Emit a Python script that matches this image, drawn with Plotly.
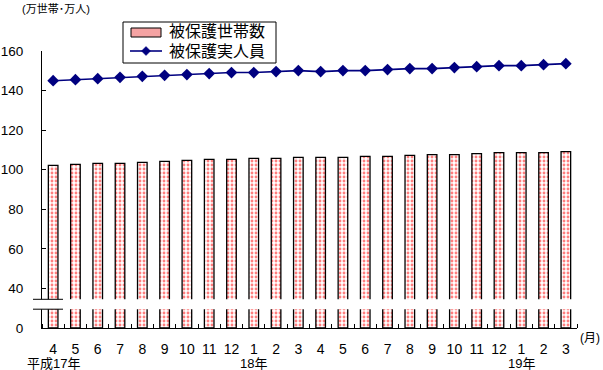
import plotly.graph_objects as go

# ---- data ----
months = ["4", "5", "6", "7", "8", "9", "10", "11", "12", "1", "2", "3",
          "4", "5", "6", "7", "8", "9", "10", "11", "12", "1", "2", "3"]
households = [102.2, 102.7, 103.2, 103.2, 103.7, 104.2, 104.7, 105.2, 105.2, 105.7, 105.7, 106.2,
              106.2, 106.2, 106.7, 106.7, 107.2, 107.6, 107.6, 108.1, 108.6, 108.6, 108.6, 109.1]
persons = [145.0, 145.5, 146.0, 146.7, 147.2, 147.7, 148.1, 148.6, 149.1, 149.1, 149.6, 150.1,
           149.6, 150.1, 150.1, 150.6, 151.1, 151.1, 151.6, 152.1, 152.6, 152.6, 153.1, 153.6]
year_labels = ["平成17年", "18年", "19年"]
year_label_index = [0, 9, 21]
y_tick_labels = [0, 40, 60, 80, 100, 120, 140, 160]
series_names = ["被保護世帯数", "被保護実人員"]

# broken axis: values from 40 upward are shifted down by 20 so 0..40 takes one step
BREAK_SHIFT = 20


def disp(v):
    return v - BREAK_SHIFT if v >= 40 else v * 0.0


x = list(range(len(months)))
hh_disp = [disp(v) for v in households]
pp_disp = [disp(v) for v in persons]
y_tick_pos = [0] + [disp(v) for v in y_tick_labels[1:]]

FONT = "Liberation Sans, Arial, Noto Sans CJK JP, sans-serif"
W, H = 603, 370
ML, MR, MT, MB = 42, 26, 51, 42
PW, PH = W - ML - MR, H - MT - MB


def px(xpix):
    return (xpix - ML) / PW


def py(ypix):
    return (H - MB - ypix) / PH


NAVY = "#000080"

fig = go.Figure()
fig.add_trace(go.Bar(
    x=x, y=hh_disp, name=series_names[0], width=0.43,
    marker=dict(color="white",
                line=dict(color="black", width=1.3),
                pattern=dict(shape=".", fgcolor="#ff0000", bgcolor="white",
                             size=4, solidity=0.4)),
    customdata=households, hovertemplate="%{customdata}<extra></extra>",
))
fig.add_trace(go.Scatter(
    x=x, y=pp_disp, name=series_names[1], mode="lines+markers",
    line=dict(color=NAVY, width=1.6),
    marker=dict(symbol="diamond", size=9, color=NAVY),
    customdata=persons, hovertemplate="%{customdata}<extra></extra>",
))

fig.update_layout(
    width=W, height=H,
    margin=dict(l=ML, r=MR, t=MT, b=MB, autoexpand=False),
    paper_bgcolor="white", plot_bgcolor="white",
    font=dict(family=FONT, size=14, color="black"),
    showlegend=False,
    bargap=0.5,
)
fig.update_xaxes(
    automargin=False,
    range=[-0.5, len(months) - 0.5],
    tickmode="array", tickvals=x, ticktext=months,
    ticks="", showgrid=False, zeroline=False,
    showline=True, linecolor="black", linewidth=1,
    tickfont=dict(size=14), ticklabelstandoff=8,
    minor=dict(tickmode="array", tickvals=[i - 0.5 for i in range(len(months) + 1)],
               ticks="inside", ticklen=4, tickcolor="black", showgrid=False),
)
fig.update_yaxes(
    automargin=False,
    range=[0, 140],
    tickmode="array", tickvals=y_tick_pos, ticktext=[str(v) for v in y_tick_labels],
    ticks="inside", ticklen=4, tickcolor="black",
    showgrid=False, zeroline=False,
    showline=True, linecolor="black", linewidth=1,
    tickfont=dict(size=13.5), ticklabelstandoff=15,
)

# axis break
BREAK_LO, BREAK_HI = 9.5, 14.5
fig.add_shape(type="rect", xref="paper", yref="y", x0=-0.004, x1=1.0, y0=BREAK_LO, y1=BREAK_HI,
              fillcolor="white", line=dict(width=0), layer="above")
for yb in (BREAK_LO, BREAK_HI):
    fig.add_shape(type="line", xref="paper", yref="y", x0=px(33), x1=px(63), y0=yb, y1=yb,
                  line=dict(color="black", width=1), layer="above")

# custom legend
fig.add_shape(type="rect", xref="paper", yref="paper", x0=px(123), x1=px(276), y0=py(22), y1=py(63),
              fillcolor="white", line=dict(color="black", width=1), layer="above")
fig.add_shape(type="rect", xref="paper", yref="paper", x0=px(131), x1=px(161), y0=py(28), y1=py(37),
              fillcolor="#f5a3a3", line=dict(color="black", width=1), layer="above")
fig.add_shape(type="line", xref="paper", yref="paper", x0=px(130), x1=px(162), y0=py(51), y1=py(51),
              line=dict(color=NAVY, width=1.6), layer="above")
fig.add_shape(type="path", xref="paper", yref="paper",
              path="M {0},{1} L {2},{3} L {0},{4} L {5},{3} Z".format(
                  px(146), py(46.5), px(150.5), py(51), py(55.5), px(141.5)),
              fillcolor=NAVY, line=dict(color=NAVY, width=0.5), layer="above")
for name, ypix in zip(series_names, (32, 51)):
    fig.add_annotation(x=px(217), y=py(ypix), xref="paper", yref="paper", text=name,
                       showarrow=False, xanchor="center", yanchor="middle",
                       font=dict(size=16, family=FONT))

# year labels
for lab, idx in zip(year_labels, year_label_index):
    fig.add_annotation(x=idx, y=0, xref="x", yref="paper", text=lab, showarrow=False,
                       xanchor="center", yanchor="middle", yshift=-35,
                       font=dict(size=13, family=FONT))

fig.add_annotation(x=px(590), y=py(338), xref="paper", yref="paper", text="(月)", showarrow=False,
                   xanchor="center", yanchor="middle", borderpad=0,
                   font=dict(size=12, family=FONT))
fig.add_annotation(x=px(56), y=py(9), xref="paper", yref="paper", text="(万世帯･万人)", showarrow=False,
                   xanchor="center", yanchor="middle", borderpad=0,
                   font=dict(size=11, family=FONT))

fig.write_html("out.html")
